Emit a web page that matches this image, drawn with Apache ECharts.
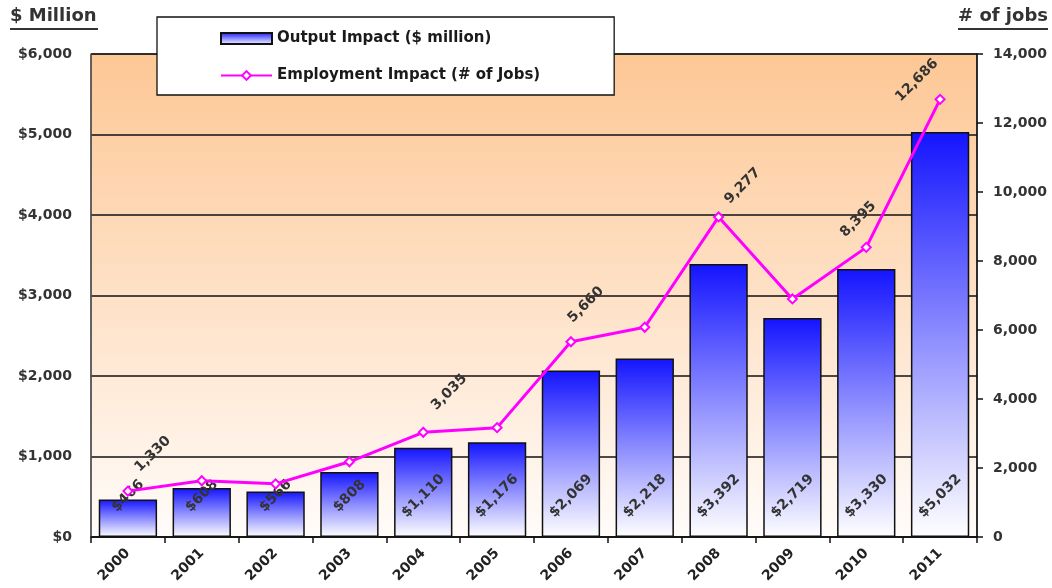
<!DOCTYPE html>
<html>
<head>
<meta charset="utf-8">
<script src="https://cdn.jsdelivr.net/npm/echarts@6/dist/echarts.min.js"></script>
<style>
html,body{margin:0;padding:0;background:#fff;}
#main{width:1052px;height:588px;}
</style>
</head>
<body>
<div id="main"></div>
<script>
const years = ['2000','2001','2002','2003','2004','2005','2006','2007','2008','2009','2010','2011'];
const outputImpact = [466, 608, 566, 808, 1110, 1176, 2069, 2218, 3392, 2719, 3330, 5032];
const employmentImpact = [1330, 1630, 1540, 2180, 3035, 3170, 5660, 6080, 9277, 6900, 8395, 12686];
const labeledJobs = [true, false, false, false, true, false, true, false, true, false, true, true];
const leftTicks = {min: 0, max: 6000, interval: 1000};
const rightTicks = {min: 0, max: 14000, interval: 2000};

// label placement (screen shift of rotated job labels from their point), styling only
const jobLabelShift = [[25,-37],null,null,null,[26,-40],null,[15,-37],null,[24,-31],null,[-8,-28],[-23,-19]];

const FONT = '"DejaVu Sans", Verdana, sans-serif';
const fmt = v => v.toLocaleString('en-US');

const chart = echarts.init(document.getElementById('main'));

const jobData = employmentImpact.map((v, i) => {
  const s = jobLabelShift[i] || [0, 0];
  const k = Math.SQRT1_2;
  return {
    value: v,
    label: {show: labeledJobs[i], offset: [(s[0] - s[1]) * k, (s[0] + s[1]) * k]}
  };
});

chart.setOption({
  animation: false,
  textStyle: {fontFamily: FONT},
  grid: {
    left: 91, right: 75, top: 54, bottom: 51,
    show: true,
    borderColor: '#222', borderWidth: 1,
    backgroundColor: new echarts.graphic.LinearGradient(0, 0, 0, 1, [
      {offset: 0, color: '#FDC795'},
      {offset: 0.5, color: '#FEE1C6'},
      {offset: 1, color: '#FFFCFA'}
    ])
  },
  legend: {
    orient: 'vertical',
    left: 157, top: 17,
    backgroundColor: '#fff',
    borderColor: '#111', borderWidth: 1.3,
    padding: [14, 74, 12, 63],
    itemGap: 22,
    itemWidth: 51, itemHeight: 11,
    textStyle: {fontFamily: FONT, fontSize: 15, fontWeight: 'bold', color: '#1a1a1a'},
    data: [
      {name: 'Output Impact ($ million)', icon: 'rect'},
      {name: 'Employment Impact (# of Jobs)'}
    ]
  },
  graphic: [
    {type: 'text', left: 10, top: 7, style: {text: '$ Million', font: 'bold 18px ' + FONT, fill: '#333'}},
    {type: 'line', shape: {x1: 10, y1: 29, x2: 98, y2: 29}, style: {stroke: '#333', lineWidth: 2}},
    {type: 'text', right: 4, top: 7, style: {text: '# of jobs', font: 'bold 18px ' + FONT, fill: '#333'}},
    {type: 'line', shape: {x1: 958, y1: 29, x2: 1048, y2: 29}, style: {stroke: '#333', lineWidth: 2}}
  ],
  xAxis: {
    type: 'category',
    data: years,
    axisLine: {lineStyle: {color: '#111', width: 1.5}},
    axisTick: {show: true, length: 6, lineStyle: {color: '#111', width: 1.5}},
    axisLabel: {rotate: 45, margin: 14, fontSize: 14, fontWeight: 'bold', color: '#222', fontFamily: FONT}
  },
  yAxis: [
    {
      type: 'value', min: leftTicks.min, max: leftTicks.max, interval: leftTicks.interval,
      axisLine: {show: true, lineStyle: {color: '#555', width: 1.5}},
      axisTick: {show: false},
      splitLine: {lineStyle: {color: '#111', width: 1.5}},
      axisLabel: {margin: 19, fontSize: 14, fontWeight: 'bold', color: '#333', fontFamily: FONT,
        formatter: v => '$' + fmt(v)}
    },
    {
      type: 'value', position: 'right', min: rightTicks.min, max: rightTicks.max, interval: rightTicks.interval,
      axisLine: {show: true, lineStyle: {color: '#111', width: 1.5}},
      axisTick: {show: true, length: 6, lineStyle: {color: '#111', width: 1.5}},
      splitLine: {show: false},
      axisLabel: {margin: 16, fontSize: 14, fontWeight: 'bold', color: '#333', fontFamily: FONT,
        formatter: v => fmt(v)}
    }
  ],
  series: [
    {
      name: 'Output Impact ($ million)',
      type: 'bar',
      yAxisIndex: 0,
      data: outputImpact,
      barCategoryGap: '21%',
      itemStyle: {
        color: new echarts.graphic.LinearGradient(0, 0, 0, 1, [
          {offset: 0, color: '#1414FF'},
          {offset: 0.5, color: '#8C8CFF'},
          {offset: 1, color: '#FFFFFF'}
        ]),
        borderColor: '#111', borderWidth: 1.5
      },
      label: {
        show: true, position: 'insideBottom', distance: 41,
        rotate: 45, align: 'center', verticalAlign: 'middle',
        fontSize: 14, fontWeight: 'bold', color: '#333', fontFamily: FONT,
        formatter: p => '$' + fmt(p.value)
      },
      z: 2
    },
    {
      name: 'Employment Impact (# of Jobs)',
      type: 'line',
      yAxisIndex: 1,
      data: jobData,
      symbol: 'diamond', symbolSize: 9,
      lineStyle: {color: '#FF00FF', width: 3},
      itemStyle: {color: '#FFFFFF', borderColor: '#FF00FF', borderWidth: 2},
      label: {
        position: 'inside',
        rotate: 45, align: 'center', verticalAlign: 'middle',
        fontSize: 14, fontWeight: 'bold', color: '#333', fontFamily: FONT,
        formatter: p => fmt(p.value)
      },
      z: 3
    }
  ]
});
</script>
</body>
</html>
